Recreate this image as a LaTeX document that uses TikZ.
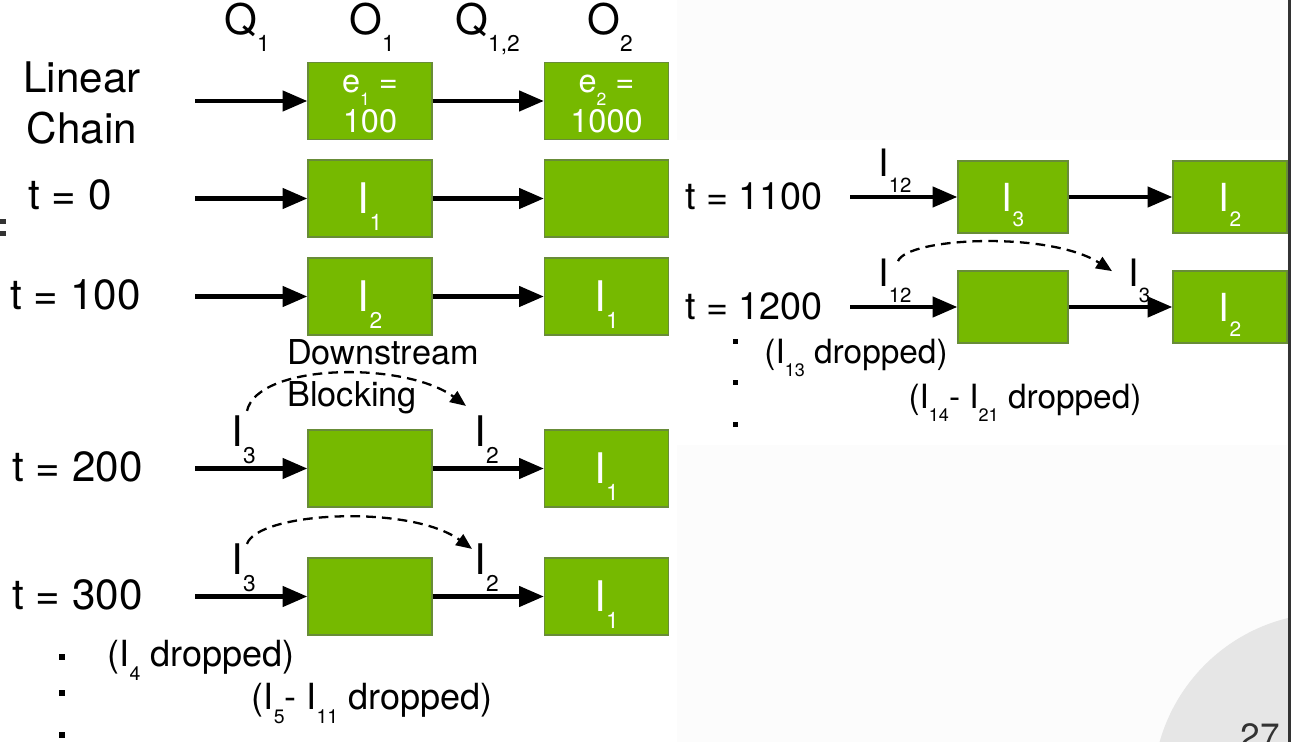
\documentclass[tikz,border=0pt]{standalone}
\usepackage{fontspec}
\setmainfont{TeX Gyre Heros}
\usetikzlibrary{arrows.meta}

\definecolor{nvgreen}{RGB}{118,185,0}
\definecolor{boxedge}{RGB}{104,140,56}
\definecolor{slidebg}{RGB}{252,252,252}
\definecolor{slidegray}{RGB}{230,230,230}
\definecolor{inkgray}{RGB}{51,51,51}
% low, smaller index (I_1, e_2, ...)
\newcommand{\dn}[1]{\raisebox{-0.40em}[0pt][0pt]{\scalebox{0.54}{#1}}}

\begin{document}
\begin{tikzpicture}[
  x=0.02cm, y=-0.02cm,
  big/.style={font=\fontsize{24}{28}\selectfont},
  rbig/.style={font=\fontsize{21.5}{26}\selectfont},
  note/.style={font=\fontsize{20.5}{24}\selectfont},
  opbox/.style={draw=boxedge, fill=nvgreen, line width=0.8pt, minimum width=2.48cm,
    minimum height=1.54cm, inner sep=0pt, text=white, font=\fontsize{24}{28}\selectfont},
  ropbox/.style={opbox, minimum width=2.2cm, minimum height=1.44cm, font=\fontsize{22}{26}\selectfont},
  tag/.style={inner sep=0pt, anchor=base west},
  flow/.style={-{Triangle[length=14pt,width=11.4pt]}, line width=2.3pt},
  blocked/.style={-{Triangle[length=9pt,width=7.5pt]}, line width=1.3pt, dash pattern=on 5.5pt off 3.5pt}
]
\useasboundingbox (0,0) rectangle (1291,742);
\clip (0,0) rectangle (1291,742);

% slide background
\fill[slidebg] (0,0) rectangle (1291,742);
\fill[white] (0,0) rectangle (677,742);
\fill[white] (677,140) rectangle (1287,445);
\fill[slidegray] (1330,790) circle (177);
\fill[inkgray] (1288,0) rectangle (1291,742);
\fill[inkgray] (0,219) rectangle (6,224);
\fill[inkgray] (0,231) rectangle (6,236);
\node[font=\fontsize{20}{24}\selectfont, text=inkgray, anchor=base] (pgno) at (1260,748) {27};

% column heads
\node[tag, big] (hq1) at (224,35) {Q\dn{1}};
\node[tag, big] (ho1) at (349,35) {O\dn{1}};
\node[tag, big] (hq12) at (455,35) {Q\dn{1,2}};
\node[tag, big] (ho2) at (587,35) {O\dn{2}};

% left: linear chain and t = 0 ... 300
\node[big, align=center, font=\fontsize{24}{28.5}\selectfont] (chain) at (82,103) {Linear\\Chain};
\node[tag, big] (t0) at (28,210) {t = 0};
\node[tag, big] (t100) at (10,310) {t = 100};
\node[tag, big] (t200) at (12,482) {t = 200};
\node[tag, big] (t300) at (12,610) {t = 300};

\node[opbox, align=center, font=\fontsize{18.5}{23}\selectfont] (b0a) at (370,101)
  {\vphantom{1}e\dn{1} =\\100};
\node[opbox, align=center, font=\fontsize{18.5}{23}\selectfont] (b0b) at (606.5,101)
  {\vphantom{1}e\dn{2} =\\1000};
\node[opbox] (b1a) at (370,198.5) {I\dn{1}};
\node[opbox] (b1b) at (606.5,198.5) {};
\node[opbox] (b2a) at (370,296.5) {I\dn{2}};
\node[opbox] (b2b) at (606.5,296.5) {I\dn{1}};
\node[opbox] (b3a) at (370,468.5) {};
\node[opbox] (b3b) at (606.5,468.5) {I\dn{1}};
\node[opbox] (b4a) at (370,596.5) {};
\node[opbox] (b4b) at (606.5,596.5) {I\dn{1}};

\coordinate (s0) at (195,101);
\coordinate (s1) at (195,198.5);
\coordinate (s2) at (195,296.5);
\coordinate (s3) at (195,468.5);
\coordinate (s4) at (195,596.5);

\draw[flow] (s0) -- (b0a);
\draw[flow] (b0a) -- (b0b);
\draw[flow] (s1) -- (b1a);
\draw[flow] (b1a) -- (b1b);
\draw[flow] (s2) -- (b2a);
\draw[flow] (b2a) -- (b2b);
\draw[flow] (s3) -- (b3a);
\draw[flow] (b3a) -- (b3b);
\draw[flow] (s4) -- (b4a);
\draw[flow] (b4a) -- (b4b);

% items waiting on the arrows
\node[tag, big] (l3a) at (231,447) {I\dn{3}};
\node[tag, big] (l3b) at (474,447) {I\dn{2}};
\node[tag, big] (l4a) at (231,575) {I\dn{3}};
\node[tag, big] (l4b) at (474,575) {I\dn{2}};

\draw[blocked] ([shift={(16,-5)}]l3a.north west) .. controls +(11,-48) and +(-61,-45) .. ([shift={(-8,-10)}]l3b.north west);
\draw[blocked] ([shift={(16,0)}]l4a.north west) .. controls +(11,-32) and +(-62,-45) .. ([shift={(-2,5)}]l4b.north west);
\node[anchor=west, align=left, font=\fontsize{19.5}{24}\selectfont] (dsblk) at (281,377) {Downstream\\Blocking};

\foreach \y in {657,693,735}
  \fill (59,\y-3) rectangle +(6,6);
\node[note] (drop4) at (201,657) {(I\dn{4} dropped)};
\node[note] (drop5) at (372,700) {(I\dn{5}- I\dn{11} dropped)};

% right: t = 1100, 1200
\node[tag, rbig] (t1100) at (685,210) {t = 1100};
\node[tag, rbig] (t1200) at (685,320) {t = 1200};

\node[ropbox] (c1a) at (1013,197) {I\dn{3}};
\node[ropbox, minimum width=2.28cm] (c1b) at (1230,197) {I\dn{2}};
\node[ropbox] (c2a) at (1013,307) {};
\node[ropbox, minimum width=2.28cm] (c2b) at (1230,307) {I\dn{2}};

\coordinate (r1) at (850,197);
\coordinate (r2) at (850,307);
\draw[flow] (r1) -- (c1a);
\draw[flow] (c1a) -- (c1b);
\draw[flow] (r2) -- (c2a);
\draw[flow] (c2a) -- (c2b);

\node[tag, rbig] (m1a) at (878,177) {I\dn{12}};
\node[tag, rbig] (m2a) at (878,287) {I\dn{12}};
\node[tag, rbig] (m2b) at (1128,287) {I\dn{3}};
\draw[blocked] ([shift={(20,2)}]m2a.north west) .. controls +(10,-24) and +(-62,-40) .. ([shift={(-16,12)}]m2b.north west);

\foreach \y in {342,383,425}
  \fill (733,\y-2.5) rectangle +(5,5);
\node[font=\fontsize{19}{23}\selectfont] (drop13) at (856,355) {(I\dn{13} dropped)};
\node[font=\fontsize{19}{23}\selectfont] (drop14) at (1025,400) {(I\dn{14}- I\dn{21} dropped)};

\end{tikzpicture}
\end{document}
